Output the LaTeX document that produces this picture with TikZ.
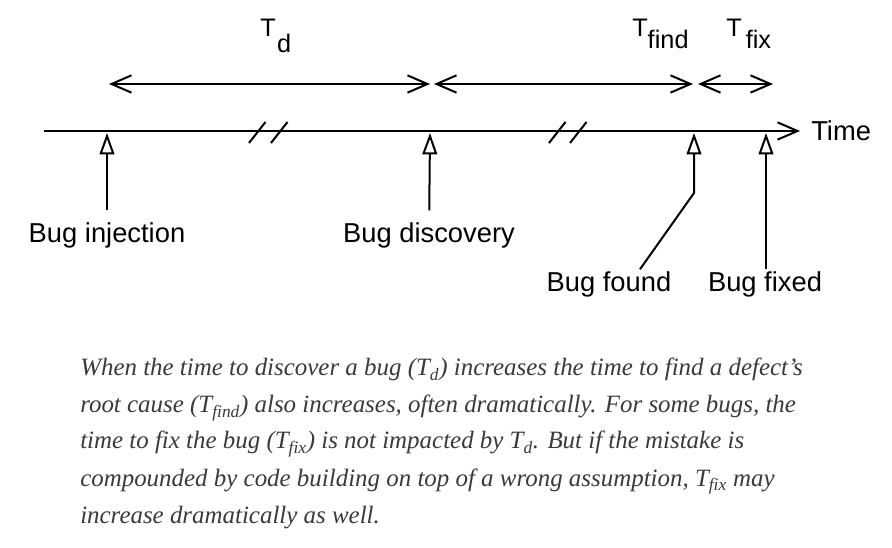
\documentclass[tikz,border=0pt]{standalone}
\usepackage{fontspec}
\setmainfont{Liberation Serif}
\setsansfont{Liberation Sans}
\usepackage{xcolor}
\usetikzlibrary{arrows.meta,positioning,calc}
\definecolor{CapGray}{RGB}{58,58,58}
\tikzset{
  lbl/.style={font=\sffamily\fontsize{20.5}{24}\selectfont,inner xsep=0pt,inner ysep=2pt},
  tlbl/.style={font=\sffamily\fontsize{19}{22}\selectfont,inner sep=0pt,anchor=base west},
  span/.style={{Straight Barb[length=15pt,width=13pt]}-{Straight Barb[length=15pt,width=13pt]},line width=1.5pt},
  timeaxis/.style={-{Straight Barb[length=15pt,width=13pt]},line width=1.5pt},
  marker/.style={-{Triangle[open,length=16pt,width=11pt,line width=1.5pt]},line width=1.5pt},
  brk/.style={line width=1.5pt},
  captext/.style={font=\itshape\fontsize{18.7}{22}\selectfont,text=CapGray,inner sep=0pt,anchor=base west},
}

\begin{document}
\begin{tikzpicture}[x=0.75pt,y=-0.75pt]
  \useasboundingbox (0,0) rectangle (892,548);
  \fill[white] (0,0) rectangle (892,548);

  % time axis and break marks
  \coordinate (start) at (44,131);
  \coordinate (stop) at (800,131);
  \draw[timeaxis] (start) -- (stop);
  \node[lbl,anchor=west] (time) at (811,131) {Time};
  \foreach \bx in {249,271,549,570}
    \draw[brk] (\bx,143) -- ++(16.5,-21);

  % events
  \coordinate (inj) at (107,133);
  \coordinate (disc) at (430,133);
  \coordinate (found) at (694,133);
  \coordinate (fixed) at (766,133);
  \coordinate (bend) at (694,193);

  \node[lbl,anchor=base] (injlbl) at (107,243) {Bug injection};
  \node[lbl,anchor=base] (disclbl) at (429,243) {Bug discovery};
  \node[lbl,anchor=base] (foundlbl) at (609,292) {Bug found};
  \node[lbl,anchor=base] (fixedlbl) at (765,292) {Bug fixed};

  \draw[marker,shorten <=7.5pt] (injlbl) -- (inj);
  \draw[marker,shorten <=7.5pt] (disclbl) -- (disc);
  \draw[marker] ($(foundlbl.north)+(31,0)$) -- (bend) -- (found);
  \draw[marker] (fixedlbl.north -| fixed) -- (fixed);

  % intervals
  \coordinate (tdL) at (109,84);
  \coordinate (tdR) at (430,84);
  \coordinate (tfL) at (434,84);
  \coordinate (tfR) at (693,84);
  \coordinate (txL) at (698,84);
  \coordinate (txR) at (773,84);
  \draw[span] (tdL) -- (tdR);
  \draw[span] (tfL) -- (tfR);
  \draw[span] (txL) -- (txR);

  \node[tlbl] (td) at (260,37) {T\hspace{1pt}\raisebox{-12pt}{d}};
  \node[tlbl] (tfind) at (632,37) {T\raisebox{-9pt}{find}};
  \node[tlbl] (tfix) at (726,37) {T\hspace{3pt}\raisebox{-9pt}{fix}};

  % caption
  \node[captext] (cap1) at (80,376) {When the time to discover a bug (T\textsubscript{d}) increases the time to find a defect’s};
  \node[captext] (cap2) at (80,413) {root cause (T\textsubscript{find}) also increases, often dramatically. For some bugs, the};
  \node[captext] (cap3) at (80,449) {time to fix the bug (T\textsubscript{fix}) is not impacted by T\textsubscript{d}. But if the mistake is};
  \node[captext] (cap4) at (80,486) {compounded by code building on top of a wrong assumption, T\textsubscript{fix} may};
  \node[captext] (cap5) at (80,523) {increase dramatically as well.};
\end{tikzpicture}
\end{document}
